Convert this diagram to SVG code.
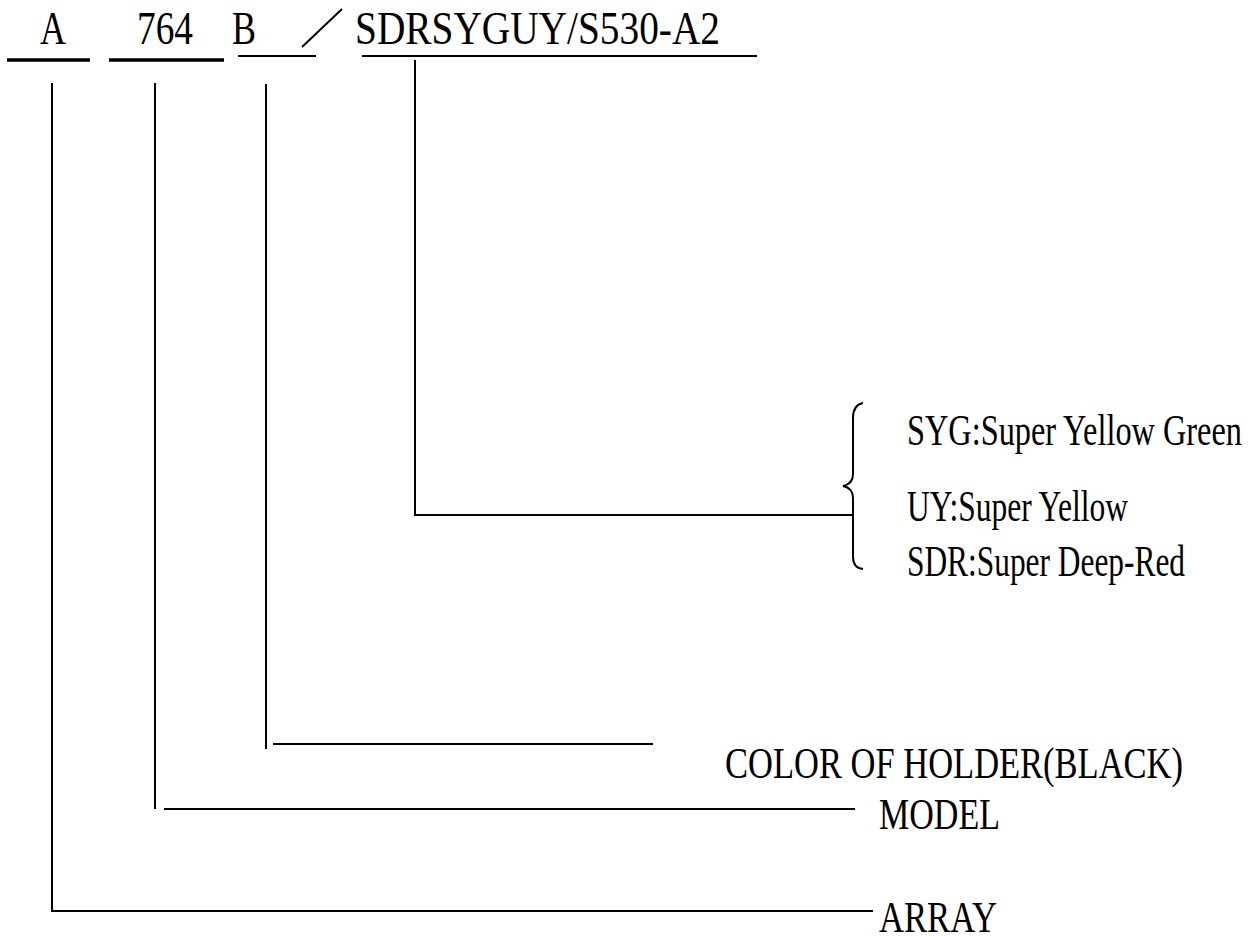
<svg xmlns="http://www.w3.org/2000/svg" width="1250" height="938" viewBox="0 0 1250 938">
<style>
text{font-family:"Liberation Serif","Times New Roman",serif;font-size:45px;fill:#000}
.ln{stroke:#000;stroke-width:2;fill:none}
.thick{stroke:#000;stroke-width:3.5;fill:none}
</style>
<rect width="1250" height="938" fill="#fff"/>
<g id="code">
<text x="40" y="44" textLength="26" lengthAdjust="spacingAndGlyphs" style="font-size:46px">A</text>
<text x="137" y="44" textLength="56" lengthAdjust="spacingAndGlyphs" style="font-size:46px">764</text>
<text x="232" y="44" textLength="24" lengthAdjust="spacingAndGlyphs" style="font-size:46px">B</text>
<line class="ln" x1="302" y1="47" x2="342" y2="9"/>
<text x="355" y="44" textLength="365" lengthAdjust="spacingAndGlyphs" style="font-size:46px">SDRSYGUY/S530-A2</text>
<line class="thick" x1="7" y1="60" x2="90" y2="60"/>
<line class="thick" x1="109" y1="60" x2="224" y2="60"/>
<line class="ln" x1="238" y1="56" x2="316" y2="56"/>
<line class="ln" x1="362" y1="56" x2="757" y2="56"/>
</g>
<g id="connectors">
<polyline class="ln" points="52,83 52,911 873,911"/>
<line class="ln" x1="155" y1="83" x2="155" y2="809"/>
<line class="ln" x1="164" y1="809" x2="855" y2="809"/>
<line class="ln" x1="266" y1="84" x2="266" y2="749"/>
<line class="ln" x1="273" y1="744" x2="653" y2="744"/>
<polyline class="ln" points="415,60 415,515 853,515"/>
<path class="ln" d="M863 403 Q853 405 853 418 L853 474 Q853 484 843 486 Q853 488 853 498 L853 557 Q853 568 863 569"/>
</g>
<g id="color-types">
<text x="907" y="445" textLength="335" lengthAdjust="spacingAndGlyphs">SYG:Super Yellow Green</text>
<text x="907" y="521" textLength="221" lengthAdjust="spacingAndGlyphs">UY:Super Yellow</text>
<text x="907" y="576" textLength="278" lengthAdjust="spacingAndGlyphs">SDR:Super Deep-Red</text>
</g>
<g id="holder">
<text x="725" y="778" textLength="458" lengthAdjust="spacingAndGlyphs">COLOR OF HOLDER(BLACK)</text>
</g>
<g id="model">
<text x="879" y="829" textLength="121" lengthAdjust="spacingAndGlyphs">MODEL</text>
</g>
<g id="array">
<text x="879" y="932" textLength="118" lengthAdjust="spacingAndGlyphs">ARRAY</text>
</g>
</svg>
